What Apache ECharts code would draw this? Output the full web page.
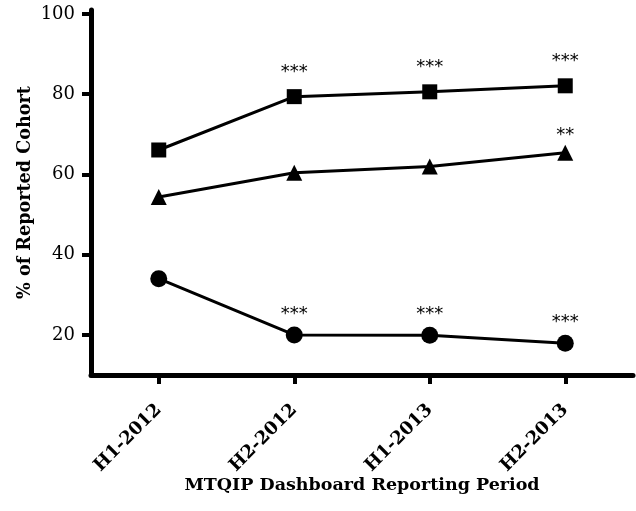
<!DOCTYPE html>
<html>
<head>
<meta charset="utf-8">
<title>MTQIP Dashboard Reporting Period</title>
<script src="https://cdn.jsdelivr.net/npm/echarts@6/dist/echarts.min.js"></script>
<style>
  html, body { margin: 0; padding: 0; background: #fff; }
  #chart { width: 636px; height: 511px; }
</style>
</head>
<body>
<div id="chart"></div>
<script>
// Reporting periods on the x axis
const categories = ['H1-2012', 'H2-2012', 'H1-2013', 'H2-2013'];

// Percent of reported cohort per period, one array per marker series
const squareValues = [66.1, 79.4, 80.6, 82.1];
const triangleValues = [54.4, 60.4, 62.0, 65.4];
const circleValues = [34.0, 20.0, 19.9, 17.9];

// Significance markers printed above each point
const squareSig = ['', '***', '***', '***'];
const triangleSig = ['', '', '', '**'];
const circleSig = ['', '***', '***', '***'];

// Y axis tick values
const yTicks = [20, 40, 60, 80, 100];

const serif = 'DejaVu Serif';
const chart = echarts.init(document.getElementById('chart'), null, { renderer: 'canvas' });

function makeSeries(name, values, sig, symbol, size, dist) {
  return {
    name: name,
    type: 'line',
    data: values,
    symbol: symbol,
    symbolSize: size,
    showAllSymbol: true,
    lineStyle: { color: '#000', width: 3 },
    itemStyle: { color: '#000' },
    emphasis: { disabled: true },
    label: {
      show: true,
      position: 'top',
      distance: dist,
      formatter: p => sig[p.dataIndex],
      fontFamily: 'DejaVu Sans',
      fontSize: 18,
      color: '#000'
    },
    z: 3
  };
}

chart.setOption({
  animation: false,
  backgroundColor: '#fff',
  grid: { left: 91, right: 3, top: 10, bottom: 136, containLabel: false },
  xAxis: {
    type: 'category',
    data: categories,
    boundaryGap: true,
    name: 'MTQIP Dashboard Reporting Period',
    nameLocation: 'middle',
    nameGap: 101,
    nameMoveOverlap: false,
    nameTextStyle: { fontFamily: serif, fontWeight: 'bold', fontSize: 17.5, color: '#000' },
    axisLine: { show: true, lineStyle: { color: '#000', width: 5 } },
    axisTick: { show: true, alignWithLabel: true, length: 9, lineStyle: { color: '#000', width: 4 } },
    axisLabel: {
      rotate: 45,
      margin: 32,
      fontFamily: serif,
      fontWeight: 'bold',
      fontSize: 18,
      color: '#000'
    },
    splitLine: { show: false }
  },
  yAxis: {
    type: 'value',
    min: 10,
    max: 101,
    name: '% of Reported Cohort',
    nameLocation: 'middle',
    nameGap: 57,
    nameMoveOverlap: false,
    nameTextStyle: { fontFamily: serif, fontWeight: 'bold', fontSize: 17.6, color: '#000' },
    axisLine: { show: true, lineStyle: { color: '#000', width: 5 } },
    axisTick: { show: true, customValues: yTicks, length: 9, lineStyle: { color: '#000', width: 4 } },
    axisLabel: {
      customValues: yTicks,
      margin: 16,
      fontFamily: serif,
      fontSize: 18,
      color: '#000'
    },
    splitLine: { show: false }
  },
  series: [
    makeSeries('Square', squareValues, squareSig, 'rect', 15, 8),
    makeSeries('Triangle', triangleValues, triangleSig, 'triangle', 16, 0),
    makeSeries('Circle', circleValues, circleSig, 'circle', 17, 3)
  ]
});
</script>
</body>
</html>
